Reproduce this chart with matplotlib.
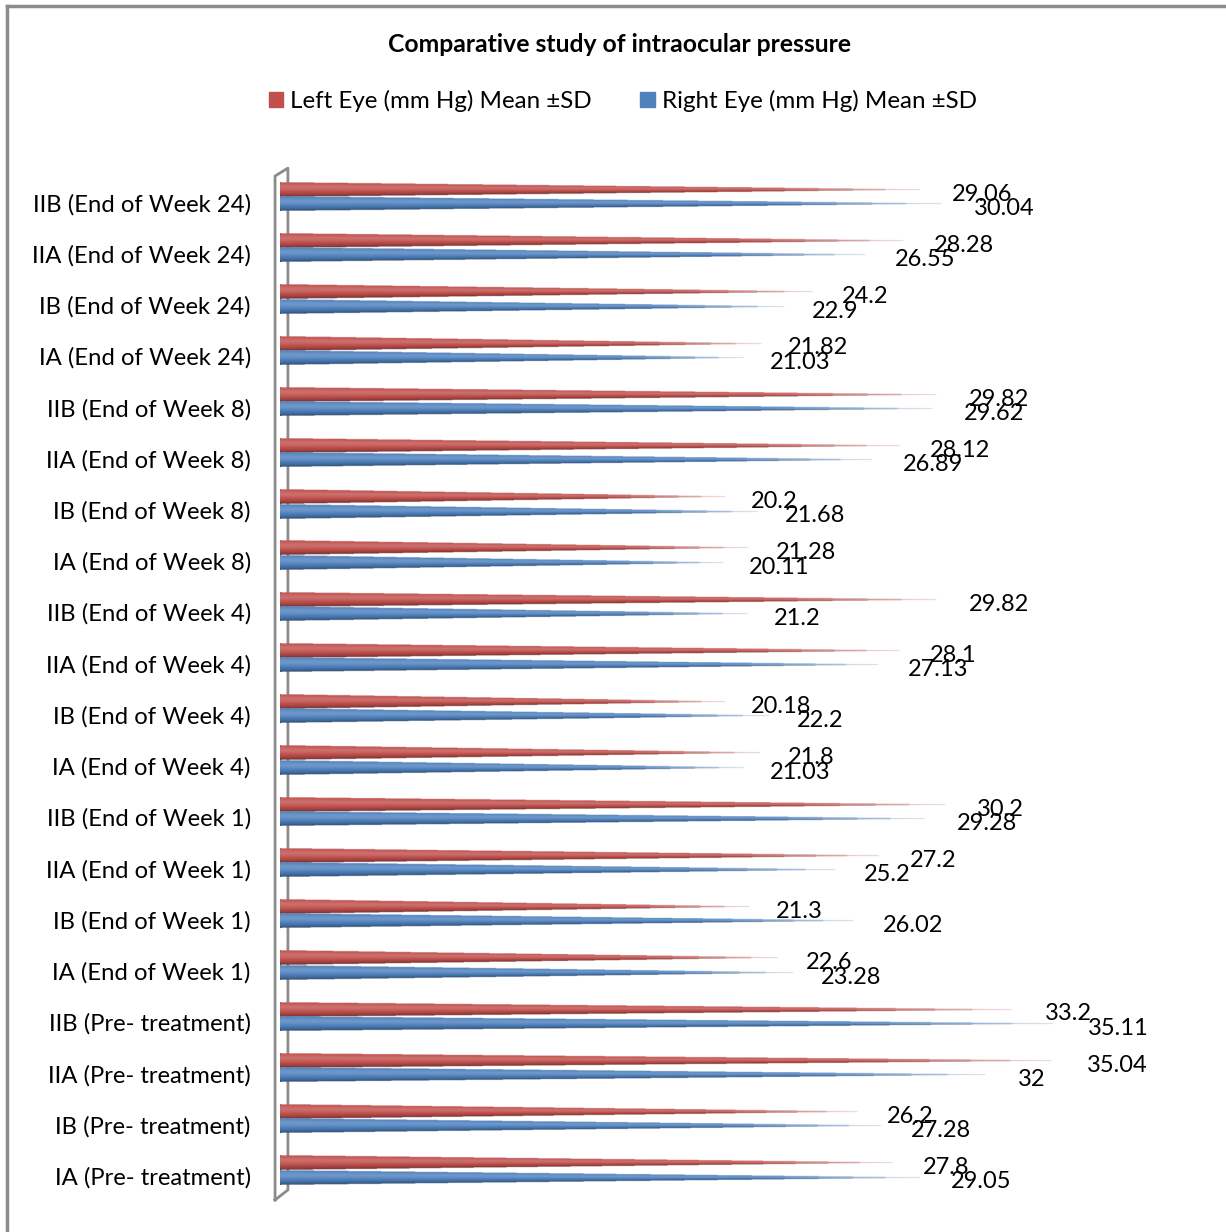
import numpy as np
import matplotlib.pyplot as plt
from matplotlib.patches import Ellipse, Rectangle
from matplotlib.lines import Line2D
from matplotlib.colors import to_rgb

plt.rcParams['font.family'] = ['Lato', 'DejaVu Sans']

categories = ["IA (Pre- treatment)", "IB (Pre- treatment)", "IIA (Pre- treatment)", "IIB (Pre- treatment)",
              "IA (End of Week 1)", "IB (End of Week 1)", "IIA (End of Week 1)", "IIB (End of Week 1)",
              "IA (End of Week 4)", "IB (End of Week 4)", "IIA (End of Week 4)", "IIB (End of Week 4)",
              "IA (End of Week 8)", "IB (End of Week 8)", "IIA (End of Week 8)", "IIB (End of Week 8)",
              "IA (End of Week 24)", "IB (End of Week 24)", "IIA (End of Week 24)", "IIB (End of Week 24)"]
left_eye = [27.8, 26.2, 35.04, 33.2, 22.6, 21.3, 27.2, 30.2, 21.8, 20.18, 28.1, 29.82,
            21.28, 20.2, 28.12, 29.82, 21.82, 24.2, 28.28, 29.06]
right_eye = [29.05, 27.28, 32, 35.11, 23.28, 26.02, 25.2, 29.28, 21.03, 22.2, 27.13, 21.2,
             20.11, 21.68, 26.89, 29.62, 21.03, 22.9, 26.55, 30.04]
label_left = "Left Eye (mm Hg) Mean ±SD"
label_right = "Right Eye (mm Hg) Mean ±SD"

red = "#C0504D"
blue = "#4F81BD"
half = 0.14   # half thickness of a cone base


def cone(ax, y, v, color):
    base = np.array(to_rgb(color))
    nx, ny = 500, 40
    xs = np.linspace(0, v, nx)
    ys = np.linspace(y - half, y + half, ny)
    X, Y = np.meshgrid(xs, ys)
    w = half * (1 - X / v) + 1e-9
    u = (Y - y) / w
    inside = np.abs(u) <= 1
    # shading across the cone: dark bottom, soft highlight upper part
    light = 0.18 * np.exp(-((u - 0.35) / 0.45) ** 2) - 0.4 * np.clip(-u, 0, 1) ** 2
    rgb = np.empty((ny, nx, 3))
    for k in range(3):
        rgb[..., k] = base[k] + light * np.where(light > 0, 1 - base[k], base[k])
    # fade to white towards the tip
    f = np.clip((X / v - 0.7) / 0.3, 0, 1) ** 1.5
    rgb = rgb * (1 - f[..., None] * 0.8) + f[..., None] * 0.8
    alpha = inside.astype(float)
    img = np.dstack([np.clip(rgb, 0, 1), alpha])
    ax.imshow(img, extent=(0, v, y - half, y + half), origin='lower',
              aspect='auto', interpolation='bilinear', zorder=3)
    ax.add_patch(Ellipse((0, y), 0.32, 2 * half * 0.98, color=base * 0.85, zorder=2.5, lw=0))


fig = plt.figure(figsize=(12.26, 12.32), dpi=100)
ax = fig.add_axes([0.2284, 0.0252, 0.7374, 0.840])

ypos = np.arange(len(categories))
for i in ypos:
    cone(ax, i + half, left_eye[i], red)
    cone(ax, i - half, right_eye[i], blue)
    ax.text(left_eye[i] + 0.65, i + half - 0.09, f"{left_eye[i]:g}", fontsize=17,
            ha='left', va='center', zorder=5)
    ax.text(right_eye[i] + 0.65, i - half - 0.09, f"{right_eye[i]:g}", fontsize=17,
            ha='left', va='center', zorder=5)

ax.set_xlim(0, 40)
ax.set_ylim(-0.6, 19.6)
ax.set_yticks(ypos - 0.11)
ax.set_yticklabels(categories, fontsize=17.2)
ax.tick_params(axis='y', length=0, pad=21)
ax.set_xticks([])
for s in ax.spines.values():
    s.set_visible(False)

# 3D wall edge
wall = dict(color='#8c8c8c', lw=2, clip_on=False, zorder=1)
ax.plot([-0.22, -0.22, 0.35, 0.35, -0.22], [-0.58, 19.405, 19.56, -0.385, -0.58], **wall)

fig.text(0.505, 0.964, "Comparative study of intraocular pressure", fontsize=17.8,
         fontweight='bold', ha='center', va='center')

handles = [Rectangle((0, 0), 1, 1, color=red), Rectangle((0, 0), 1, 1, color=blue)]
fig.legend(handles, [label_left, label_right], loc='center', bbox_to_anchor=(0.508, 0.918),
           ncol=2, frameon=False, fontsize=17.4, handlelength=0.6, handleheight=0.6,
           handletextpad=0.3, columnspacing=2.0)

# outer chart border (top and left visible)
fig.add_artist(Line2D([7 / 1226, 7 / 1226], [0, 1 - 6 / 1232], color='#8c8c8c', lw=2.5,
                      transform=fig.transFigure))
fig.add_artist(Line2D([7 / 1226, 1], [1 - 6 / 1232, 1 - 6 / 1232], color='#8c8c8c', lw=2.5,
                      transform=fig.transFigure))

fig.savefig("out.png", dpi=100)
